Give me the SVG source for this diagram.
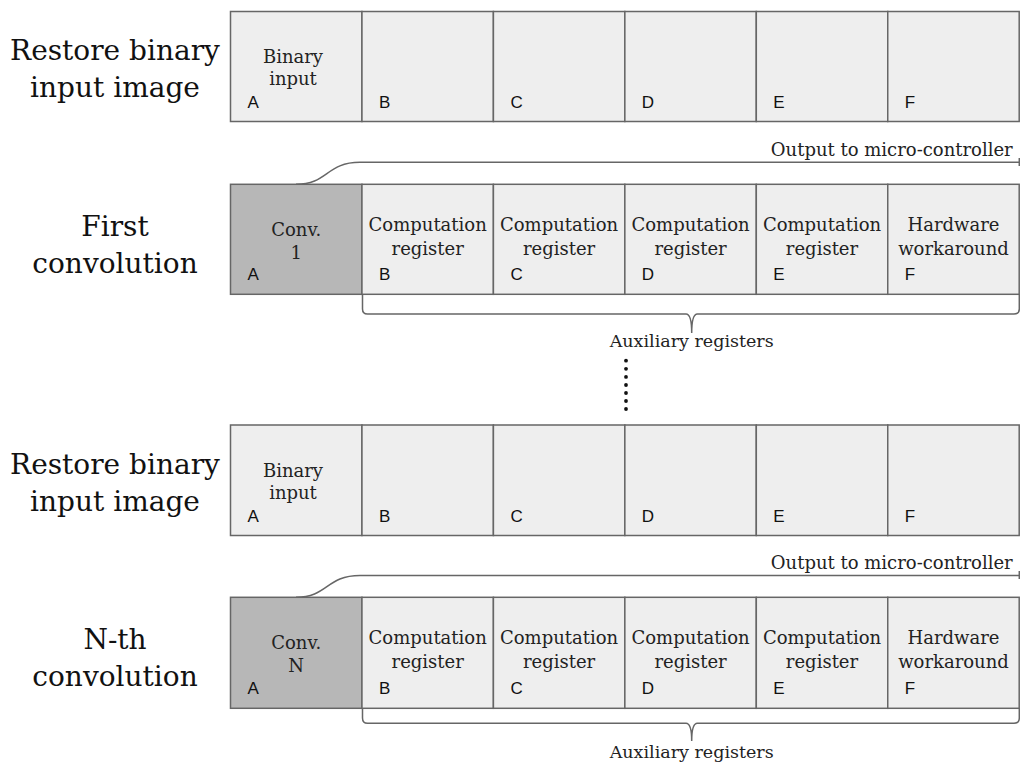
<svg xmlns="http://www.w3.org/2000/svg" width="1020" height="764" viewBox="0 0 1020 764">
<style>
.cell{fill:#eeeeee;stroke:#666666;stroke-width:1.5}
.conv{fill:#b7b7b7;stroke:#666666;stroke-width:1.5}
.big{font-family:"DejaVu Serif","Liberation Serif",serif;font-size:28px;fill:#111;text-anchor:middle}
.txt{font-family:"DejaVu Serif","Liberation Serif",serif;font-size:18px;fill:#222;text-anchor:middle}
.out{font-family:"DejaVu Serif","Liberation Serif",serif;font-size:18px;fill:#222;text-anchor:end}
.aux{font-family:"DejaVu Serif","Liberation Serif",serif;font-size:17.5px;fill:#222;text-anchor:middle}
.let{font-family:"Liberation Sans",Arial,sans-serif;font-size:17px;fill:#111}
.line{fill:none;stroke:#666666;stroke-width:1.5}
.dot{fill:#111}
</style>
<rect width="1020" height="764" fill="#ffffff"/>

<!-- Row labels -->
<g id="label-row1">
<text class="big" x="115" y="60">Restore binary</text>
<text class="big" x="115" y="97">input image</text>
</g>
<g id="label-row2">
<text class="big" x="115" y="236">First</text>
<text class="big" x="115" y="273">convolution</text>
</g>
<g id="label-row3">
<text class="big" x="115" y="474">Restore binary</text>
<text class="big" x="115" y="511">input image</text>
</g>
<g id="label-row4">
<text class="big" x="115" y="649">N-th</text>
<text class="big" x="115" y="686">convolution</text>
</g>

<!-- Row 1 -->
<g id="r1-A"><rect class="cell" x="230.5" y="11.5" width="131.45" height="110"/><text class="txt" x="293" y="62.5">Binary</text><text class="txt" x="293" y="85">input</text><text class="let" x="247.5" y="107.5">A</text></g>
<g id="r1-B"><rect class="cell" x="361.95" y="11.5" width="131.45" height="110"/><text class="let" x="379" y="107.5">B</text></g>
<g id="r1-C"><rect class="cell" x="493.4" y="11.5" width="131.45" height="110"/><text class="let" x="510.4" y="107.5">C</text></g>
<g id="r1-D"><rect class="cell" x="624.85" y="11.5" width="131.45" height="110"/><text class="let" x="641.8" y="107.5">D</text></g>
<g id="r1-E"><rect class="cell" x="756.3" y="11.5" width="131.45" height="110"/><text class="let" x="773.3" y="107.5">E</text></g>
<g id="r1-F"><rect class="cell" x="887.75" y="11.5" width="131.45" height="110"/><text class="let" x="904.7" y="107.5">F</text></g>

<!-- Row 2 -->
<g id="r2-A"><rect class="conv" x="230.5" y="184.3" width="131.45" height="110"/><text class="txt" x="296.2" y="236">Conv.</text><text class="txt" x="296.2" y="258.5">1</text><text class="let" x="247.5" y="280">A</text></g>
<g id="r2-B"><rect class="cell" x="361.95" y="184.3" width="131.45" height="110"/><text class="txt" x="427.7" y="231">Computation</text><text class="txt" x="427.7" y="254.5">register</text><text class="let" x="379" y="280">B</text></g>
<g id="r2-C"><rect class="cell" x="493.4" y="184.3" width="131.45" height="110"/><text class="txt" x="559.1" y="231">Computation</text><text class="txt" x="559.1" y="254.5">register</text><text class="let" x="510.4" y="280">C</text></g>
<g id="r2-D"><rect class="cell" x="624.85" y="184.3" width="131.45" height="110"/><text class="txt" x="690.6" y="231">Computation</text><text class="txt" x="690.6" y="254.5">register</text><text class="let" x="641.8" y="280">D</text></g>
<g id="r2-E"><rect class="cell" x="756.3" y="184.3" width="131.45" height="110"/><text class="txt" x="822" y="231">Computation</text><text class="txt" x="822" y="254.5">register</text><text class="let" x="773.3" y="280">E</text></g>
<g id="r2-F"><rect class="cell" x="887.75" y="184.3" width="131.45" height="110"/><text class="txt" x="953.5" y="231">Hardware</text><text class="txt" x="953.5" y="254.5">workaround</text><text class="let" x="904.7" y="280">F</text></g>

<!-- Row 3 -->
<g id="r3-A"><rect class="cell" x="230.5" y="425" width="131.45" height="110.5"/><text class="txt" x="293" y="476.5">Binary</text><text class="txt" x="293" y="499">input</text><text class="let" x="247.5" y="521.5">A</text></g>
<g id="r3-B"><rect class="cell" x="361.95" y="425" width="131.45" height="110.5"/><text class="let" x="379" y="521.5">B</text></g>
<g id="r3-C"><rect class="cell" x="493.4" y="425" width="131.45" height="110.5"/><text class="let" x="510.4" y="521.5">C</text></g>
<g id="r3-D"><rect class="cell" x="624.85" y="425" width="131.45" height="110.5"/><text class="let" x="641.8" y="521.5">D</text></g>
<g id="r3-E"><rect class="cell" x="756.3" y="425" width="131.45" height="110.5"/><text class="let" x="773.3" y="521.5">E</text></g>
<g id="r3-F"><rect class="cell" x="887.75" y="425" width="131.45" height="110.5"/><text class="let" x="904.7" y="521.5">F</text></g>

<!-- Row 4 -->
<g id="r4-A"><rect class="conv" x="230.5" y="597.3" width="131.45" height="111"/><text class="txt" x="296.2" y="649">Conv.</text><text class="txt" x="296.2" y="671.5">N</text><text class="let" x="247.5" y="693.5">A</text></g>
<g id="r4-B"><rect class="cell" x="361.95" y="597.3" width="131.45" height="111"/><text class="txt" x="427.7" y="644">Computation</text><text class="txt" x="427.7" y="667.5">register</text><text class="let" x="379" y="693.5">B</text></g>
<g id="r4-C"><rect class="cell" x="493.4" y="597.3" width="131.45" height="111"/><text class="txt" x="559.1" y="644">Computation</text><text class="txt" x="559.1" y="667.5">register</text><text class="let" x="510.4" y="693.5">C</text></g>
<g id="r4-D"><rect class="cell" x="624.85" y="597.3" width="131.45" height="111"/><text class="txt" x="690.6" y="644">Computation</text><text class="txt" x="690.6" y="667.5">register</text><text class="let" x="641.8" y="693.5">D</text></g>
<g id="r4-E"><rect class="cell" x="756.3" y="597.3" width="131.45" height="111"/><text class="txt" x="822" y="644">Computation</text><text class="txt" x="822" y="667.5">register</text><text class="let" x="773.3" y="693.5">E</text></g>
<g id="r4-F"><rect class="cell" x="887.75" y="597.3" width="131.45" height="111"/><text class="txt" x="953.5" y="644">Hardware</text><text class="txt" x="953.5" y="667.5">workaround</text><text class="let" x="904.7" y="693.5">F</text></g>

<!-- Connectors: braces, output curves, ellipsis -->
<g id="connectors">
<path class="line" d="M296,184.3 C328,184.3 326,162.3 360,162.3 H1019.3 M1019.3,158 V166"/>
<path class="line" d="M296,597.3 C328,597.3 326,575.5 360,575.5 H1019.3 M1019.3,571 V579"/>
<path class="line" d="M362.5,294.3 V309 Q362.5,314 367.5,314 H686 Q691.7,314 691.7,333 Q691.7,314 697.4,314 H1014 Q1019.3,314 1019.3,309 V294.3"/>
<path class="line" d="M362.5,708.3 V718 Q362.5,723.3 367.5,723.3 H686 Q691.7,723.3 691.7,741 Q691.7,723.3 697.4,723.3 H1014 Q1019.3,723.3 1019.3,718 V708.3"/>
<g class="dot">
<circle cx="626" cy="360.7" r="1.9"/><circle cx="626" cy="368.8" r="1.9"/><circle cx="626" cy="376.9" r="1.9"/><circle cx="626" cy="385" r="1.9"/><circle cx="626" cy="393" r="1.9"/><circle cx="626" cy="401" r="1.9"/><circle cx="626" cy="409" r="1.9"/>
</g>
</g>
<g id="connector-labels">
<text class="out" x="1012.7" y="156">Output to micro-controller</text>
<text class="out" x="1012.7" y="569">Output to micro-controller</text>
<text class="aux" x="691.7" y="346.5">Auxiliary registers</text>
<text class="aux" x="691.7" y="758">Auxiliary registers</text>
</g>
</svg>
